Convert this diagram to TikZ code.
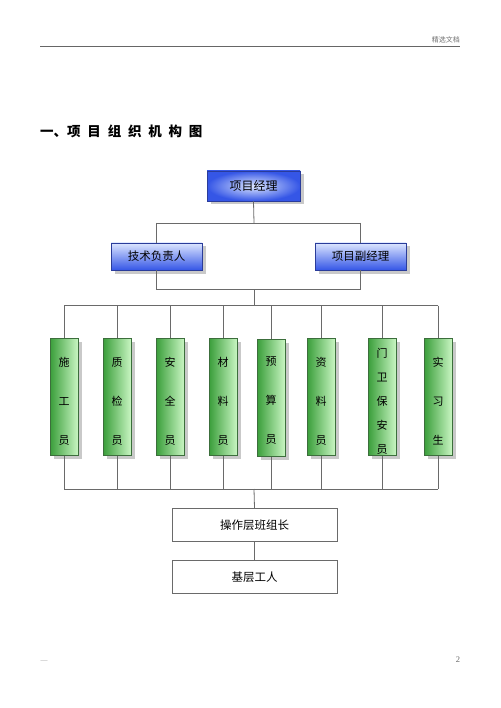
\documentclass[tikz,border=0pt]{standalone}
\usepackage{fontspec}
\setmainfont{Liberation Serif}
\newfontfamily\cjk{Noto Sans CJK SC}
\usetikzlibrary{shadows}
\definecolor{linegray}{HTML}{6A6A6A}
\definecolor{blueedge}{HTML}{2A3C9A}
\definecolor{bluedark}{HTML}{3556E6}
\definecolor{bluelight}{HTML}{DCE6FF}
\definecolor{greenedge}{HTML}{3C6E3C}
\definecolor{greendark}{HTML}{3A9E3A}
\definecolor{greenlight}{HTML}{C8F5C2}
\tikzset{
  conn/.style={draw=linegray, line width=0.8pt},
  shad/.style={drop shadow={shadow xshift=3.5pt, shadow yshift=-3.5pt, fill=black!35, opacity=0.6}},
  topbox/.style={draw=blueedge, line width=0.8pt, inner color=bluelight, outer color=bluedark,
    minimum width=93pt, minimum height=30pt, inner sep=0pt, font=\cjk\fontsize{12}{12}\selectfont, shad},
  midbox/.style={draw=blueedge, line width=0.8pt, top color=bluelight, bottom color=bluedark,
    minimum width=91pt, minimum height=27pt, inner sep=0pt, font=\cjk\fontsize{11.5}{11.5}\selectfont, shad},
  greenbox/.style={draw=greenedge, line width=0.8pt, left color=greendark, right color=greenlight,
    minimum width=28pt, minimum height=117pt, inner sep=0pt, shad},
  gtext3/.style={font=\cjk\fontsize{11}{39}\selectfont, align=center, inner sep=0pt},
  gtext5/.style={font=\cjk\fontsize{11}{24}\selectfont, align=center, inner sep=0pt},
  lowbox/.style={draw=linegray, line width=0.8pt, fill=white,
    minimum width=165pt, minimum height=33pt, inner sep=0pt, font=\cjk\fontsize{11.5}{11.5}\selectfont},
}
\begin{document}
\begin{tikzpicture}[x=1pt,y=-1pt]
\useasboundingbox[fill=white] (0,0) rectangle (500,708);
% header
\coordinate (hl) at (40,46);
\coordinate (hr) at (460,46);
\draw[draw=black!60, line width=0.9pt] (hl) -- (hr);
\node[anchor=south east, inner sep=0pt, text=black!55, font=\cjk\fontsize{7}{7}\selectfont] (hdr) at (460,43.5) {精选文档};
% title
\node[anchor=west, inner sep=0pt, font=\cjk\bfseries\fontsize{13.5}{13.5}\selectfont] (title) at (40,131)
  {一、项\hspace{6.8pt}目\hspace{6.8pt}组\hspace{6.8pt}织\hspace{6.8pt}机\hspace{6.8pt}构\hspace{6.8pt}图};
% footer
\node[inner sep=0pt, text=black!40, font=\fontsize{7}{7}\selectfont] (fl) at (44,662) {—};
\node[inner sep=0pt, text=black!60, font=\fontsize{8.5}{8.5}\selectfont] (fr) at (458,660) {2};

% top
\node[topbox] (pm) at (253.5,186) {项目经理};
\node[midbox] (tech) at (156.5,256.5) {技术负责人};
\node[midbox] (vpm) at (360.5,256.5) {项目副经理};

\coordinate (j1) at (254,223);
\coordinate (j2) at (254,289);
\coordinate (bus) at (254,305.5);
\coordinate (busb) at (254,489);

\draw[conn] (pm.south) -- (j1);
\draw[conn] (tech.north |- j1) -- (vpm.north |- j1);
\draw[conn] (j1 -| tech.north) -- (tech.north);
\draw[conn] (j1 -| vpm.north) -- (vpm.north);
\draw[conn] (tech.south) -- (tech.south |- j2) -- (vpm.south |- j2) -- (vpm.south);
\draw[conn] (j2) -- (bus);

% green boxes
\node[greenbox] (g1) at (64,397) {};
\node[greenbox] (g2) at (117,397) {};
\node[greenbox] (g3) at (170,397) {};
\node[greenbox] (g4) at (223,397) {};
\node[greenbox] (g5) at (271,398) {};
\node[greenbox] (g6) at (321,397) {};
\node[greenbox] (g7) at (382,397) {};
\node[greenbox] (g8) at (438,397) {};

\node[gtext3] (t1) at (64,401) {施\\工\\员};
\node[gtext3] (t2) at (117,401) {质\\检\\员};
\node[gtext3] (t3) at (170,401) {安\\全\\员};
\node[gtext3] (t4) at (223,401) {材\\料\\员};
\node[gtext3] (t5) at (271,401) {预\\算\\员};
\node[gtext3] (t6) at (321,401) {资\\料\\员};
\node[gtext5] (t7) at (382,401) {门\\卫\\保\\安\\员};
\node[gtext3] (t8) at (438,401) {实\\习\\生};

\draw[conn] (g1.north |- bus) -- (g8.north |- bus);
\draw[conn] (g1.south |- busb) -- (g8.south |- busb);
\foreach \g in {g1,g2,g3,g4,g5,g6,g7,g8}{
  \draw[conn] (\g.north |- bus) -- (\g.north);
  \draw[conn] (\g.south) -- (\g.south |- busb);
}

% bottom
\node[lowbox] (lead) at (254.5,525) {操作层班组长};
\node[lowbox] (work) at (254.5,577) {基层工人};
\draw[conn] (busb) -- (lead.north);
\draw[conn] (lead.south) -- (work.north);
\end{tikzpicture}
\end{document}
